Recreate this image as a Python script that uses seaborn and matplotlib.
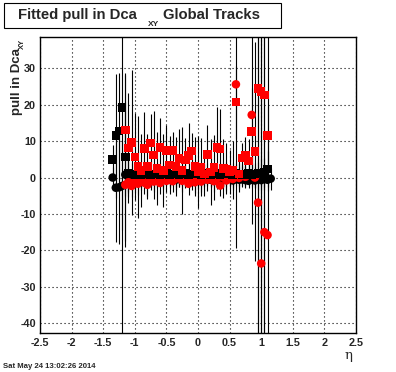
import numpy as np
import seaborn as sns
import matplotlib.pyplot as plt
from matplotlib.patches import Rectangle

# eta bins (shared by all four series), NaN = no point in that bin
eta = [-1.35, -1.30, -1.25, -1.20, -1.15, -1.10, -1.05, -1.00, -0.95, -0.90,
       -0.85, -0.80, -0.75, -0.70, -0.65, -0.60, -0.55, -0.50, -0.45, -0.40,
       -0.35, -0.30, -0.25, -0.20, -0.15, -0.10, -0.05, 0.00, 0.05, 0.10,
       0.15, 0.20, 0.25, 0.30, 0.35, 0.40, 0.45, 0.50, 0.55, 0.60,
       0.65, 0.70, 0.75, 0.80, 0.85, 0.90, 0.95, 1.00, 1.05, 1.10, 1.15]

nan = np.nan

# black squares
bsq_val = [5.0, 11.5, 12.8, 19.3, 5.7, 1.2, 1.0, 0.8, 1.1, 0.9,
           1.0, 1.2, 0.8, 1.0, 1.1, 0.9, 1.0, 1.2, 0.9, 1.0,
           1.1, 0.8, 1.0, 1.1, 0.9, 1.0, 1.2, 1.0, 0.9, 1.1,
           1.0, 0.8, 1.0, 1.1, 0.9, 1.0, 1.2, 1.0, 0.9, 1.1,
           1.0, 0.8, 1.0, 1.1, 0.9, 1.0, 1.2, 1.3, 1.5, 2.4, nan]
bsq_err = [4, 17, 16, 90, 23, 5, 3, 3, 3, 2.5,
           3, 2.5, 3, 2.5, 3, 2.5, 3, 2.5, 3, 2.5,
           3, 2.5, 3, 2.5, 3, 2.5, 3, 2.5, 3, 2.5,
           3, 2.5, 3, 2.5, 3, 2.5, 3, 2.5, 3, 2.5,
           3, 2.5, 3, 3, 3, 3, 3, 4, 4, 5, nan]

# black circles
bci_val = [0.0, -2.8, -2.7, -2.3, 0.8, 0.7, -0.3, -0.5, -0.2, -0.6,
           -0.4, -0.3, -0.7, -0.2, -0.5, -0.4, -0.6, -0.3, -0.5, -0.2,
           -0.6, -0.4, -0.3, -0.5, -0.7, -0.3, -0.4, -0.6, -0.2, -0.5,
           -0.3, -0.6, -0.4, -0.5, -0.3, -0.7, -0.5, -0.2, -0.8, -0.4,
           -0.6, -0.5, -0.7, -0.9, -0.6, -0.8, -0.5, -0.7, -0.4, -0.6, -0.3]
bci_err = [3, 15, 15.5, 12, 20, 6, 2, 2, 2, 2,
           2, 2, 2, 2, 2, 2, 2, 2, 2, 2,
           2, 2, 2, 2, 2, 2, 2, 2, 2, 2,
           2, 2, 2, 2, 2, 2, 2, 2, 2, 2,
           2, 2, 2, 2, 2, 2, 3, 3, 3, 3, 3]

# red squares
rsq_val = [nan, nan, nan, nan, 13.1, 8.1, 9.6, 5.7, 3.0, 2.0,
           8.0, 3.0, 9.5, 6.2, 2.5, 8.3, 2.0, 7.4, 3.5, 7.4,
           3.0, 5.3, 2.0, 4.8, 6.0, 7.3, 3.0, 1.5, 2.8, 1.0,
           6.3, 1.5, 2.7, 8.3, 7.8, 2.5, 2.4, 1.5, 2.0, 20.7,
           1.0, 5.4, 6.0, 4.5, 12.7, 7.2, 24.5, 23.6, 22.7, 11.6, nan]
rsq_err = [nan, nan, nan, nan, 15, 15, 20, 12, 14, 10,
           10, 9, 8, 12, 10, 8, 10, 7, 8, 5,
           8, 8, 12, 6, 9, 5, 8, 10, 8, 6,
           8, 9, 9, 11, 11, 8, 7, 6, 8, 10,
           5, 4, 5, 6, 12, 30, 90, 90, 90, 8, nan]

# red circles
rci_val = [nan, nan, nan, nan, -2.0, -1.3, -2.3, -1.0, -1.7, -0.3,
           -1.4, -2.0, -0.4, -1.1, 0.0, -1.5, -0.2, -0.9, 0.2, -1.0,
           -0.3, 0.4, -0.9, 0.0, -1.7, -0.4, -1.3, -0.1, -1.1, 0.6,
           -0.6, 0.3, -1.0, -0.2, -2.2, 0.1, -0.8, 0.4, -0.4, 25.6,
           -0.1, 0.6, 0.2, 0.9, 17.2, 0.0, -6.9, -23.6, -15.0, -15.8, nan]
rci_err = [nan, nan, nan, nan, 3, 3, 3, 3, 3, 3,
           3, 3, 3, 3, 3, 3, 3, 3, 3, 3,
           3, 3, 3, 3, 3, 3, 3, 3, 3, 3,
           3, 3, 3, 3, 3, 3, 3, 3, 3, 45,
           3, 3, 3, 3, 30, 3, 60, 70, 60, 60, nan]

xticks = [-2.5, -2, -1.5, -1, -0.5, 0, 0.5, 1, 1.5, 2, 2.5]
xticklabels = ["-2.5", "-2", "-1.5", "-1", "-0.5", "0", "0.5", "1", "1.5", "2", "2.5"]
yticks = [-40, -30, -20, -10, 0, 10, 20, 30]
yticklabels = ["-40", "-30", "-20", "-10", "0", "10", "20", "30"]

sns.set_style("white")
plt.rcParams["font.family"] = ["Liberation Sans", "DejaVu Sans"]
plt.rcParams["axes.unicode_minus"] = False

W, H = 396, 372
fig = plt.figure(figsize=(W / 100, H / 100), dpi=100)
ax = fig.add_axes([40 / W, 1 - 333 / H, 316 / W, 296 / H])

# draw order: black circles, red circles, black squares, red squares
series = [
    (bci_val, bci_err, "o", "black"),
    (rci_val, rci_err, "o", "red"),
    (bsq_val, bsq_err, "s", "black"),
    (rsq_val, rsq_err, "s", "red"),
]

# error bars first, all black like the original
for val, err, _, _ in series:
    ax.errorbar(eta, val, yerr=err, fmt="none", ecolor="black",
                elinewidth=0.8, capsize=0, zorder=2)

for val, err, mk, col in series:
    sns.scatterplot(x=eta, y=val, marker=mk, color=col, s=38,
                    edgecolor="none", linewidth=0, ax=ax, zorder=3)

ax.set_xlim(-2.5, 2.5)
ax.set_ylim(-42.7, 38.6)
ax.set_xticks(xticks, labels=xticklabels, fontweight="bold", fontsize=7.8)
ax.set_yticks(yticks, labels=yticklabels, fontweight="bold", fontsize=7.8)
ax.set_xticks(np.arange(-2.5, 2.51, 0.1), minor=True)
ax.set_yticks(np.arange(-42, 38.6, 2), minor=True)
ax.tick_params(which="both", direction="in", top=False, right=False,
               width=0.8, color="black")
ax.tick_params(which="major", length=6.5)
ax.tick_params(which="minor", length=3.2)
ax.tick_params(axis="x", pad=3.5)
ax.tick_params(axis="y", pad=3)
ax.grid(True, which="major", color="black", linestyle=(0, (1, 2.6)),
        linewidth=0.8)
ax.set_axisbelow(True)
for sp in ax.spines.values():
    sp.set_visible(True)
    sp.set_color("black")
    sp.set_linewidth(1.0)

# title box
fig.add_artist(Rectangle((4 / W, 1 - 27.5 / H), 277 / W, 25 / H,
                         transform=fig.transFigure, facecolor="white",
                         edgecolor="black", linewidth=0.8))
fig.text(18 / W, 1 - 19 / H, "Fitted pull in Dca", fontsize=10.7,
         fontweight="bold", va="baseline", ha="left")
fig.text(148 / W, 1 - 26 / H, "XY", fontsize=6, fontweight="bold",
         va="baseline", ha="left")
fig.text(163 / W, 1 - 19 / H, "Global Tracks", fontsize=10.7,
         fontweight="bold", va="baseline", ha="left")

# y axis title
fig.text(20 / W, 1 - 115 / H, "pull in Dca", fontsize=9.5, fontweight="bold",
         rotation=90, rotation_mode="anchor", ha="left", va="baseline")
fig.text(23.5 / W, 1 - 49 / H, "XY", fontsize=5.5, fontweight="bold",
         rotation=90, rotation_mode="anchor", ha="left", va="baseline")

# x axis title
fig.text(349 / W, 1 - 355 / H, "η", fontsize=9.5, ha="center", va="center",
         family="DejaVu Serif")

fig.text(3 / W, 1 - 366 / H, "Sat May 24 13:02:26 2014", fontsize=5.6,
         fontweight="bold", ha="left", va="center")

fig.savefig("out.png", dpi=100)
